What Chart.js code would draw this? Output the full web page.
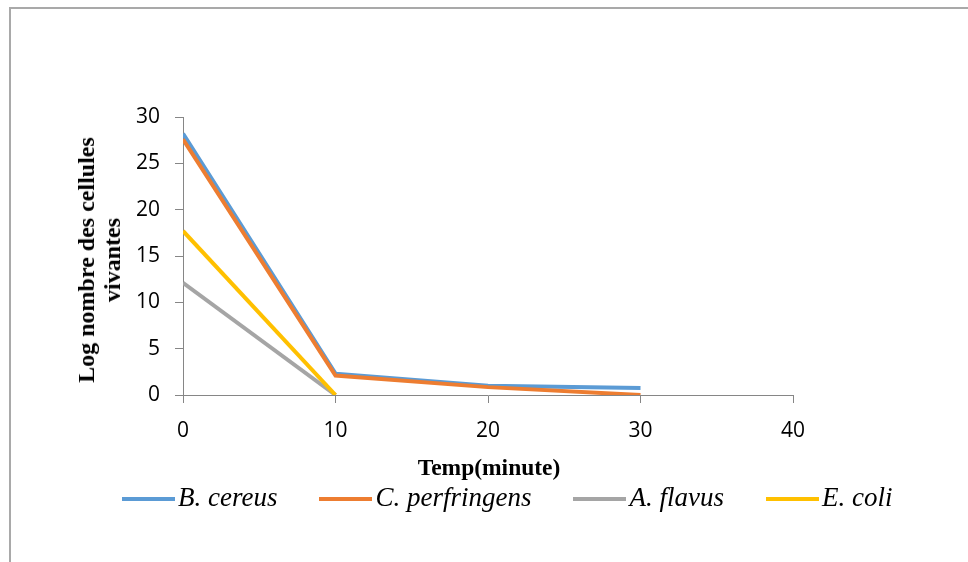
<!DOCTYPE html>
<html>
<head>
<meta charset="utf-8">
<script src="https://cdn.jsdelivr.net/npm/chart.js@4"></script>
<style>
  body { margin: 0; background: #fff; }
  #wrap { position: relative; width: 968px; height: 562px; overflow: hidden; }
  #frame { position: absolute; left: 9px; top: 7px; width: 1000px; height: 600px;
           border-left: 2px solid #a9a9a9; border-top: 2px solid #a9a9a9; }
  #chart { position: absolute; left: 0; top: 0; }
  .serif { font-family: "Liberation Serif", "Times New Roman", serif; color: #000; position: absolute; white-space: nowrap; }
  #xTitle { font-weight: bold; font-size: 23.5px; line-height: 23px; top: 456px; left: 489px; transform: translateX(-50%); }
  #yTitle { font-weight: bold; font-size: 24px; line-height: 26px; text-align: center;
            left: 99px; top: 260px; transform: translate(-50%, -50%) rotate(-90deg); }
  #legend { position: absolute; left: 122px; top: 484px; display: flex; gap: 42px; }
  .item { display: flex; align-items: center; }
  .swatch { width: 53px; height: 4px; margin-right: 3px; position: relative; top: 1px; }
  .item span { font-family: "Liberation Serif", serif; font-style: italic; font-size: 27px; line-height: 27px; }
</style>
</head>
<body>
<div id="wrap">
  <div id="frame"></div>
  <canvas id="chart" width="968" height="562"></canvas>
  <div id="yTitle" class="serif">Log nombre des cellules<br>vivantes</div>
  <div id="xTitle" class="serif">Temp(minute)</div>
  <div id="legend"></div>
</div>
<script>
const timeValues = [0, 10, 20, 30];
const seriesLabels = ['B. cereus', 'C. perfringens', 'A. flavus', 'E. coli'];
const seriesColors = ['#5b9bd5', '#ed7d31', '#a5a5a5', '#ffc000'];
const bCereus = [28.2, 2.3, 1.0, 0.75];
const cPerfringens = [27.6, 2.1, 0.85, 0.0];
const aFlavus = [12.1, 0];
const eColi = [17.7, 0];
const seriesValues = [bCereus, cPerfringens, aFlavus, eColi];

const axisColor = '#868686';

// legend as plain html, placed like the original
const legendEl = document.getElementById('legend');
seriesLabels.forEach((label, i) => {
    const item = document.createElement('div');
    item.className = 'item';
    item.innerHTML = '<div class="swatch" style="background:' + seriesColors[i] + '"></div><span>' + label + '</span>';
    legendEl.appendChild(item);
});

new Chart(document.getElementById('chart'), {
    type: 'line',
    data: {
        datasets: seriesValues.map((vals, i) => ({
            label: seriesLabels[i],
            data: vals.map((v, j) => ({ x: timeValues[j], y: v })),
            borderColor: seriesColors[i],
            backgroundColor: seriesColors[i],
            borderWidth: 4,
            pointRadius: 0,
            tension: 0,
            order: 4 - i
        }))
    },
    options: {
        responsive: false,
        animation: false,
        layout: { padding: { top: 117, right: 175, left: 0, bottom: 0 } },
        plugins: { legend: { display: false }, tooltip: { enabled: false } },
        scales: {
            x: {
                type: 'linear',
                min: 0, max: 40,
                afterFit: (scale) => { scale.height = 167; },
                border: { color: axisColor, width: 1 },
                grid: { drawOnChartArea: false, color: axisColor, tickLength: 8 },
                ticks: { stepSize: 10, padding: 15, color: '#000', font: { family: 'Open Sans', size: 21 } }
            },
            y: {
                min: 0, max: 30,
                afterFit: (scale) => { scale.width = 183; },
                border: { color: axisColor, width: 1 },
                grid: { drawOnChartArea: false, color: axisColor, tickLength: 8 },
                ticks: { stepSize: 5, padding: 15, color: '#000', font: { family: 'Open Sans', size: 21 } }
            }
        }
    }
});
</script>
</body>
</html>
